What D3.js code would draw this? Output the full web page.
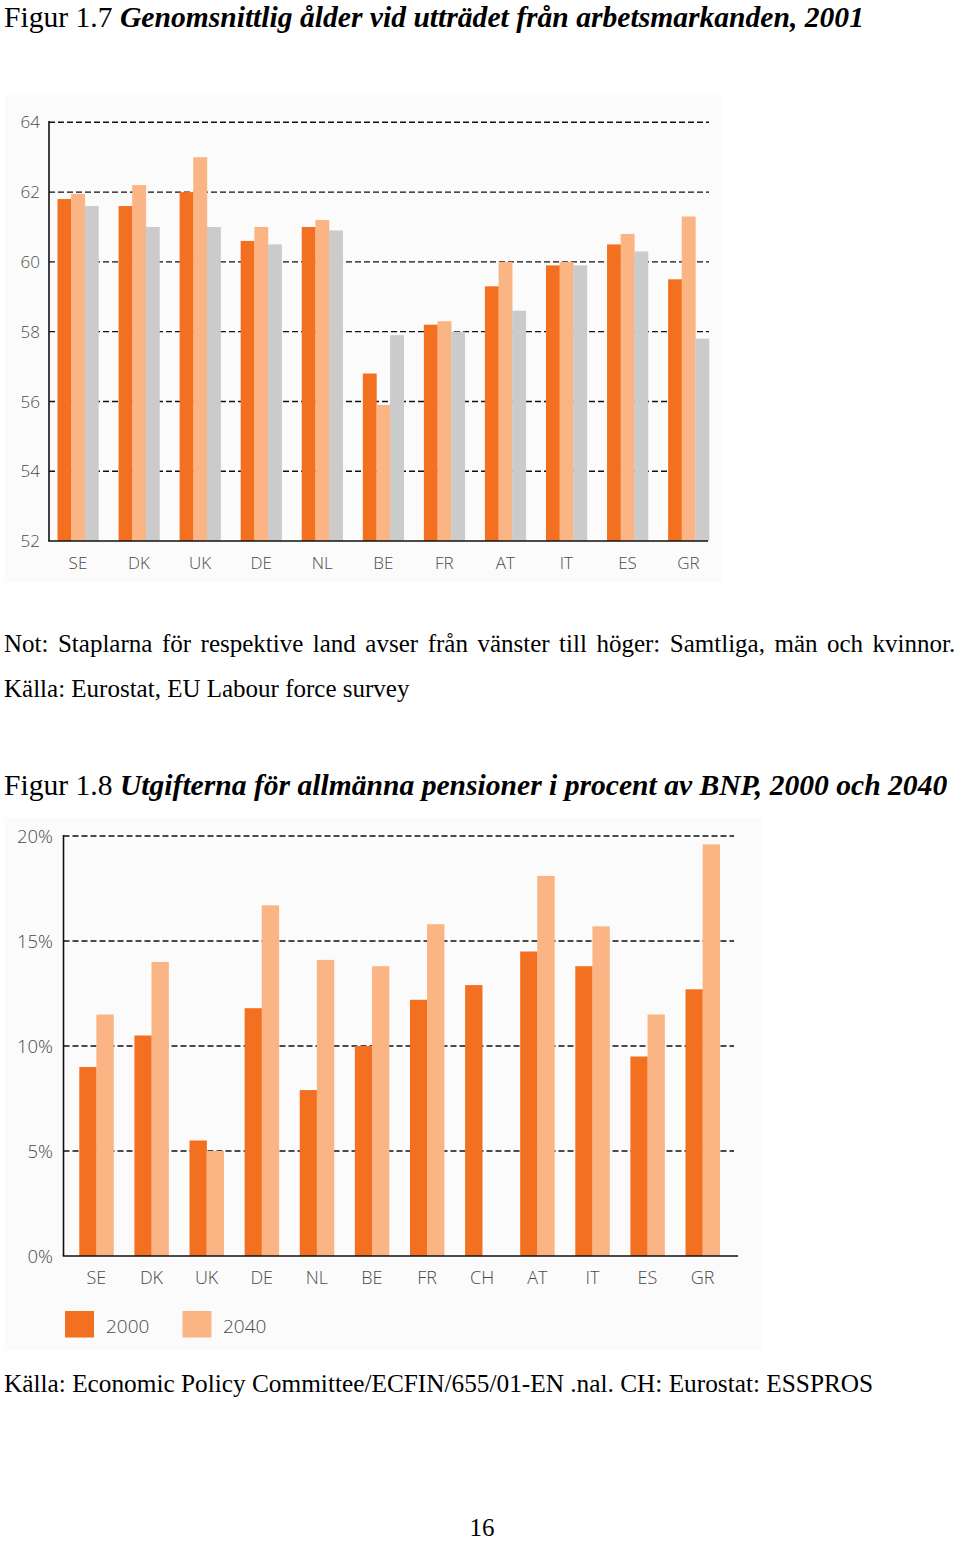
<!DOCTYPE html>
<html><head><meta charset="utf-8">
<script src="https://cdn.jsdelivr.net/npm/d3@7"></script>
<style>
html,body{margin:0;padding:0;background:#fff;}
svg{display:block;}
.serif{font-family:"Liberation Serif","Times New Roman",serif;fill:#000;}
.tick{font-family:"Open Sans","DejaVu Sans",sans-serif;fill:#4a4a4a;font-weight:300;}
</style></head>
<body>
<svg id="page" width="960" height="1543"></svg>
<script>
// ---------- data: Figur 1.7 ----------
const countries17 = ["SE","DK","UK","DE","NL","BE","FR","AT","IT","ES","GR"];
const samtliga = [61.8, 61.6, 62.0, 60.6, 61.0, 56.8, 58.2, 59.3, 59.9, 60.5, 59.5];
const man      = [61.95, 62.2, 63.0, 61.0, 61.2, 55.9, 58.3, 60.0, 60.0, 60.8, 61.3];
const kvinnor  = [61.6, 61.0, 61.0, 60.5, 60.9, 57.9, 58.0, 58.6, 59.9, 60.3, 57.8];
const ticks17 = [52, 54, 56, 58, 60, 62, 64];

// ---------- data: Figur 1.8 ----------
const countries18 = ["SE","DK","UK","DE","NL","BE","FR","CH","AT","IT","ES","GR"];
const y2000 = [9.0, 10.5, 5.5, 11.8, 7.9, 10.0, 12.2, 12.9, 14.5, 13.8, 9.5, 12.7];
const y2040 = [11.5, 14.0, 5.0, 16.7, 14.1, 13.8, 15.8, null, 18.1, 15.7, 11.5, 19.6];
const ticks18 = [0, 5, 10, 15, 20];
const legendLabels = ["2000", "2040"];

const C_DARK = "#F37021", C_LIGHT = "#FBB585", C_GRAY = "#CBCBCB";

const svg = d3.select("#page");

// ---------- text ----------
function title(y, num, rest) {
  const t = svg.append("text").attr("class","serif").attr("x",4).attr("y",y).attr("font-size",29.6);
  t.append("tspan").text(num + " ");
  t.append("tspan").attr("font-weight","bold").attr("font-style","italic").text(rest);
}
title(27, "Figur 1.7", "Genomsnittlig ålder vid utträdet från arbetsmarkanden, 2001");
title(795, "Figur 1.8", "Utgifterna för allmänna pensioner i procent av BNP, 2000 och 2040");

const not = svg.append("text").attr("class","serif").attr("x",4).attr("y",652).attr("font-size",25)
  .text("Not: Staplarna för respektive land avser från vänster till höger: Samtliga, män och kvinnor.");
{
  const w = not.node().getComputedTextLength();
  const spaces = 12;
  not.attr("word-spacing", Math.max(0, (948 - w) / spaces));
}
svg.append("text").attr("class","serif").attr("x",4).attr("y",697).attr("font-size",25)
  .text("Källa: Eurostat, EU Labour force survey");
svg.append("text").attr("class","serif").attr("x",4).attr("y",1392).attr("font-size",25.3)
  .text("Källa: Economic Policy Committee/ECFIN/655/01-EN .nal. CH: Eurostat: ESSPROS");
svg.append("text").attr("class","serif").attr("x",482).attr("y",1536).attr("font-size",25)
  .attr("text-anchor","middle").text("16");

// ---------- Chart 1 ----------
{
  const g = svg.append("g");
  g.append("rect").attr("x",5).attr("y",95).attr("width",717).attr("height",487).attr("fill","#fbfbfb");
  const y = d3.scaleLinear().domain([52,64]).range([541,122.3]);
  const x = d3.scaleBand().domain(countries17).range([57.5,709]).paddingInner(0.33).paddingOuter(0);
  const xs = d3.scaleBand().domain([0,1,2]).range([0, x.bandwidth()]);
  g.selectAll("line.grid").data(ticks17.filter(d=>d>52)).join("line")
    .attr("x1",49).attr("x2",709).attr("y1",d=>y(d)).attr("y2",d=>y(d))
    .attr("stroke","#111").attr("stroke-width",1.4).attr("stroke-dasharray","6,3");
  const series = [samtliga, man, kvinnor];
  const cols = [C_DARK, C_LIGHT, C_GRAY];
  series.forEach((s, si) => {
    g.selectAll(null).data(countries17).join("rect")
      .attr("x", d => x(d) + xs(si))
      .attr("width", xs.bandwidth()+0.3)
      .attr("y", (d,i) => y(s[i]))
      .attr("height", (d,i) => y(52) - y(s[i]))
      .attr("fill", cols[si]);
  });
  g.append("line").attr("x1",49).attr("x2",49).attr("y1",121).attr("y2",541).attr("stroke","#111").attr("stroke-width",1.6);
  g.append("line").attr("x1",48.2).attr("x2",708).attr("y1",541).attr("y2",541).attr("stroke","#111").attr("stroke-width",1.6);
  g.selectAll("text.yl").data(ticks17).join("text").attr("class","tick").attr("font-size",17)
    .attr("x",40).attr("y",d=>y(d)).attr("dy","0.36em").attr("text-anchor","end").text(d=>d);
  g.selectAll("text.xl").data(countries17).join("text").attr("class","tick").attr("font-size",17)
    .attr("x",d=>x(d)+x.bandwidth()/2).attr("y",569).attr("text-anchor","middle").text(d=>d);
}

// ---------- Chart 2 ----------
{
  const g = svg.append("g");
  g.append("rect").attr("x",5).attr("y",818).attr("width",757).attr("height",532).attr("fill","#fbfbfb");
  const y = d3.scaleLinear().domain([0,20]).range([1256,836]);
  const x = d3.scaleBand().domain(countries18).range([79.3,719.7]).paddingInner(0.38).paddingOuter(0);
  const xs = d3.scaleBand().domain([0,1]).range([0, x.bandwidth()]);
  g.selectAll("line.grid").data(ticks18.filter(d=>d>0)).join("line")
    .attr("x1",63.5).attr("x2",734).attr("y1",d=>y(d)).attr("y2",d=>y(d))
    .attr("stroke","#111").attr("stroke-width",1.4).attr("stroke-dasharray","6,3");
  [[y2000, C_DARK],[y2040, C_LIGHT]].forEach(([s,c], si) => {
    const data = countries18.map((k,i)=>({k, v:s[i]})).filter(d=>d.v!=null);
    g.selectAll(null).data(data).join("rect")
      .attr("x", d => x(d.k) + xs(si))
      .attr("width", xs.bandwidth()+0.3)
      .attr("y", d => y(d.v))
      .attr("height", d => y(0) - y(d.v))
      .attr("fill", c);
  });
  g.append("line").attr("x1",63.5).attr("x2",63.5).attr("y1",835).attr("y2",1256).attr("stroke","#111").attr("stroke-width",1.6);
  g.append("line").attr("x1",62.7).attr("x2",738).attr("y1",1256).attr("y2",1256).attr("stroke","#111").attr("stroke-width",1.6);
  g.selectAll("text.yl").data(ticks18).join("text").attr("class","tick").attr("font-size",18.5)
    .attr("x",53).attr("y",d=>y(d)).attr("dy","0.36em").attr("text-anchor","end").text(d=>d+"%");
  g.selectAll("text.xl").data(countries18).join("text").attr("class","tick").attr("font-size",18)
    .attr("x",d=>x(d)+x.bandwidth()/2).attr("y",1284).attr("text-anchor","middle").text(d=>d);
  const leg = [[C_DARK, 65, 106], [C_LIGHT, 182.5, 223]];
  leg.forEach(([c, rx, tx], i) => {
    g.append("rect").attr("x",rx).attr("y",1311).attr("width",29).attr("height",26.5).attr("fill",c);
    g.append("text").attr("class","tick").attr("font-size",19).attr("x",tx).attr("y",1326).attr("dy","0.36em").text(legendLabels[i]);
  });
}
</script>
</body></html>
